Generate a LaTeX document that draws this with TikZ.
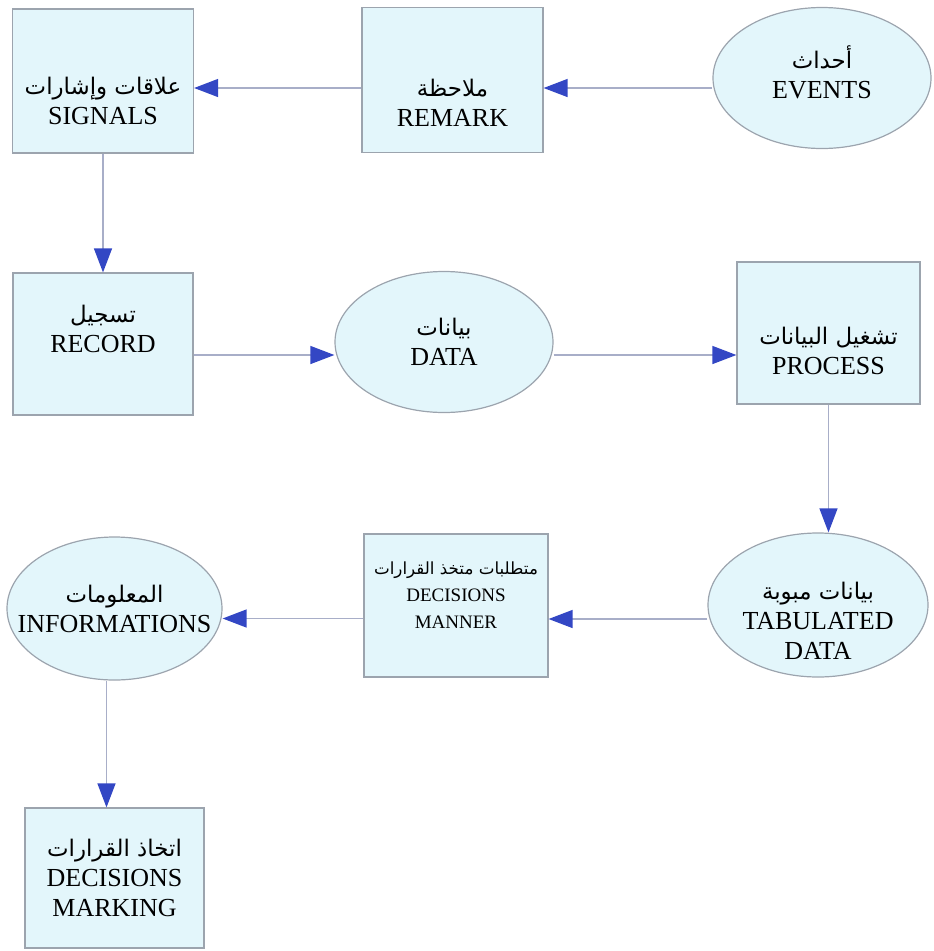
\documentclass[tikz,border=0pt]{standalone}
\usepackage{fontspec}
\setmainfont{Liberation Serif}
\newfontfamily\arabicfont[Script=Arabic,Scale=0.88]{DejaVu Sans}
\TeXXeTstate=1
\usetikzlibrary{arrows.meta,shapes.geometric}
\definecolor{cellfill}{HTML}{E3F6FB}
\definecolor{cellline}{HTML}{9CA4AE}
\definecolor{flowline}{HTML}{A8AEC8}
\definecolor{headblue}{HTML}{3347C4}
\newcommand{\arab}[1]{{\arabicfont\beginR #1\endR}}
% move the text of a node down / up inside its frame
\newcommand{\pushdown}[2]{\raisebox{0pt}[\dimexpr\height+#1\relax]{#2}}
\newcommand{\pushup}[2]{\raisebox{0pt}[\height][\dimexpr\depth+#1\relax]{#2}}
\begin{document}
\begin{tikzpicture}[x=1pt,y=-1pt,
	box/.style={draw=cellline,fill=cellfill,line width=1.2pt,rectangle,align=center,inner sep=0pt,font=\fontsize{26}{30}\selectfont},
	oval/.style={box,ellipse,inner sep=-25pt},
	small/.style={font=\fontsize{19}{27}\selectfont},
	flow/.style={draw=flowline,line width=1.3pt,-{Triangle[length=24pt,width=18pt,color=headblue]}}]
	\useasboundingbox (0,0) rectangle (934,951);
	% first row
	\node (Si) at (103,81) [box,minimum width=181,minimum height=144] {\pushdown{40pt}{\arab{علاقات وإشارات}}\\SIGNALS};
	\node (Re) at (452.5,80) [box,minimum width=181,minimum height=145] {\pushdown{46pt}{\arab{ملاحظة}}\\REMARK};
	\node (Ev) at (822,78) [oval,minimum width=218,minimum height=141] {\arab{أحداث}\\\pushup{12pt}{EVENTS}};
	% second row
	\node (Rc) at (103,344) [box,minimum width=180,minimum height=142] {\arab{تسجيل}\\\pushup{30pt}{RECORD}};
	\node (Da) at (444,342) [oval,minimum width=218,minimum height=141] {\arab{بيانات}\\DATA};
	\node (Pr) at (828.5,333) [box,minimum width=183,minimum height=142] {\pushdown{36pt}{\arab{تشغيل البيانات}}\\PROCESS};
	% third row
	\node (Tb) at (818,605) [oval,minimum width=220,minimum height=144] {\pushdown{32pt}{\arab{بيانات مبوبة}}\\TABULATED\\DATA};
	\node (Dn) at (456,605.5) [box,small,minimum width=184,minimum height=143] {\arab{متطلبات متخذ القرارات}\\DECISIONS\\\pushup{20pt}{MANNER}};
	\node (In) at (114.5,608.5) [oval,minimum width=215,minimum height=143] {\arab{المعلومات}\\INFORMATIONS};
	\node (Dm) at (114.5,878) [box,minimum width=179,minimum height=140] {\arab{اتخاذ القرارات}\\DECISIONS\\MARKING};
	% connectors
	\draw[flow] ([yshift=-10pt]Ev.west) -- ([yshift=-10pt]Ev.west -| Re.east);
	\draw[flow] ([yshift=-8pt]Re.west) -- ([yshift=-8pt]Re.west -| Si.east);
	\draw[flow] (Si.south) -- (Rc.north);
	\draw[flow] ([yshift=-11pt]Rc.east) -- ([yshift=-11pt]Rc.east -| Da.west);
	\draw[flow] ([yshift=-13pt]Da.east) -- ([yshift=-13pt]Da.east -| Pr.west);
	\draw[flow] (Pr.south) -- (Pr.south |- Tb.north);
	\draw[flow] ([yshift=-14pt]Tb.west) -- ([yshift=-14pt]Tb.west -| Dn.east);
	\draw[flow] ([yshift=-13pt]Dn.west) -- ([yshift=-13pt]Dn.west -| In.east);
	\draw[flow] ([xshift=-8pt]In.south) -- ([xshift=-8pt]Dm.north);
\end{tikzpicture}
\end{document}
